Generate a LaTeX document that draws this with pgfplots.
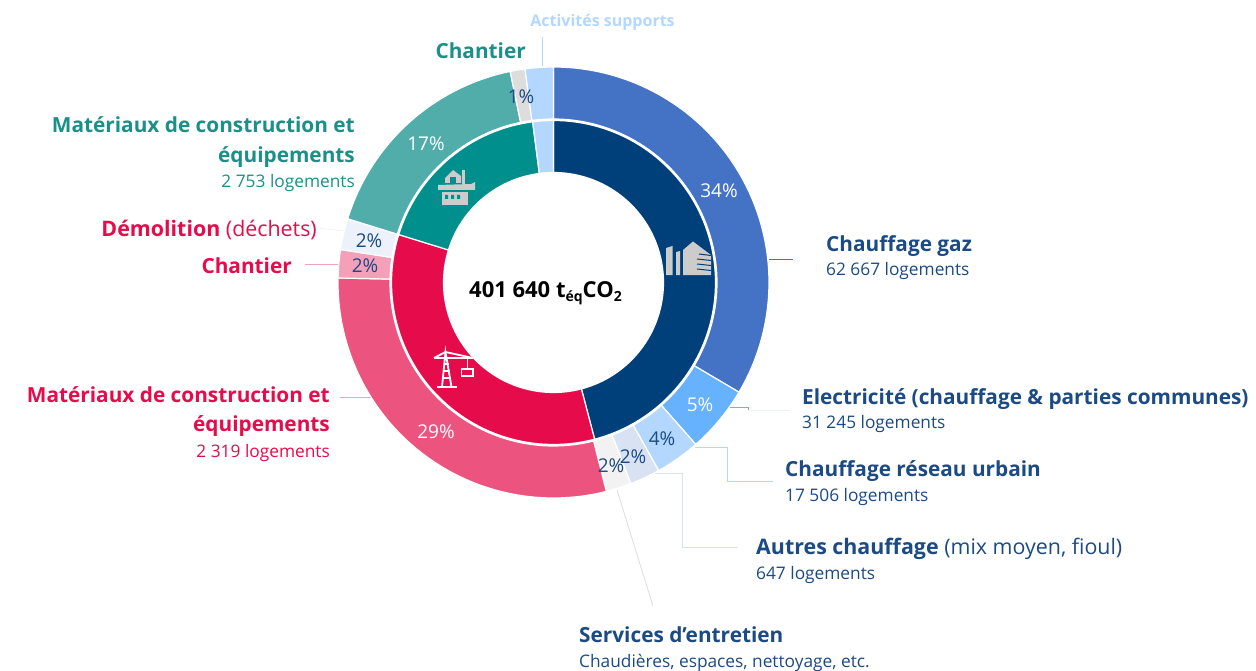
\documentclass[border=0pt]{standalone}
\usepackage{fontspec}
\setmainfont{Open Sans}
\usepackage{pgfplots}
\pgfplotsset{compat=1.18}
\definecolor{navy}{HTML}{1B4A84}
\definecolor{crim}{HTML}{E60B4B}
\definecolor{teal2}{HTML}{1A9088}
\definecolor{c1}{HTML}{4472C4}
\definecolor{c2}{HTML}{66B2FF}
\definecolor{c3}{HTML}{B3D7FF}
\definecolor{c4}{HTML}{D9E2F3}
\definecolor{c5}{HTML}{F2F2F2}
\definecolor{c6}{HTML}{EC547F}
\definecolor{c7}{HTML}{F4A0B8}
\definecolor{c8}{HTML}{EDF1F9}
\definecolor{c9}{HTML}{50ADAA}
\definecolor{c10}{HTML}{DDDDDD}
\definecolor{i1}{HTML}{00407A}
\definecolor{i2}{HTML}{E60B4B}
\definecolor{i3}{HTML}{008F8C}
\newcommand\fs[1]{\fontsize{#1}{#1}\selectfont}
\newcommand\sector[5]{%
  \gdef\pts{}%
  \pgfmathtruncatemacro\nn{ceil((#2-#1)/2)}%
  \pgfplotsforeachungrouped \i in {0,...,\nn}{%
    \pgfmathsetmacro\a{#1+(#2-#1)*\i/\nn}%
    \pgfmathsetmacro\x{553.5+#4*sin(\a)}%
    \pgfmathsetmacro\y{282.5-#4*cos(\a)}%
    \xdef\pts{\pts(\x,\y)}%
  }%
  \pgfplotsforeachungrouped \i in {0,...,\nn}{%
    \pgfmathsetmacro\a{#2-(#2-#1)*\i/\nn}%
    \pgfmathsetmacro\x{553.5+#3*sin(\a)}%
    \pgfmathsetmacro\y{282.5-#3*cos(\a)}%
    \xdef\pts{\pts(\x,\y)}%
  }%
  \edef\tmp{\noexpand\addplot[mark=none,fill=#5,draw=white,line width=1.2pt,line join=round] coordinates {\pts} -- cycle;}%
  \tmp
}
\newcommand\lead[2]{\addplot[mark=none,color=#1,line width=0.8pt] coordinates {#2};}
\begin{document}
\begin{tikzpicture}
\begin{axis}[
  scale only axis,width=1256pt,height=671pt,
  xmin=0,xmax=1256,ymin=0,ymax=671,y dir=reverse,
  hide axis,clip=false]
% leaders
\lead{c3}{(542,37)(542,66)}
\lead{c5}{(318,228)(346,231)}
\lead{c7}{(305,264)(339,264)}
\lead{c7}{(340,397)(372,397)}
\lead{c10}{(617,490)(653,606)}
\lead{c1}{(769,259)(793,259)}
\lead{c8}{(748,410)(790,410)}
\lead{c2}{(728,407.7)(748,407.7)(748,410)}
\lead{c3}{(695,447)(727,447)(727,481)(773,481)}
\lead{c4}{(655,473)(682,473)(682,547)(738,547)}
% outer ring: clockwise angle from the top (degrees)
\sector{0}{120.6}{163.5}{215.5}{c1}
\sector{120.6}{138.7}{163.5}{215.5}{c2}
\sector{138.7}{150.8}{163.5}{215.5}{c3}
\sector{150.8}{159}{163.5}{215.5}{c4}
\sector{159}{165.8}{163.5}{215.5}{c5}
\sector{165.8}{271.2}{163.5}{215.5}{c6}
\sector{271.2}{278.8}{163.5}{215.5}{c7}
\sector{278.8}{287.2}{163.5}{215.5}{c8}
\sector{287.2}{348.4}{163.5}{215.5}{c9}
\sector{348.4}{352.4}{163.5}{215.5}{c10}
\sector{352.4}{360}{163.5}{215.5}{c3}
% inner ring
\sector{0}{165.3}{110}{162}{i1}
\sector{165.3}{287.2}{110}{162}{i2}
\sector{287.2}{352.6}{110}{162}{i3}
\sector{352.6}{360}{110}{162}{c3}
% building icon
\fill[black!20] (666,248)--(672.5,246)--(672.5,275)--(666,275)--cycle;
\fill[black!20] (676,252)--(680,251)--(680,275)--(676,275)--cycle;
\fill[black!20] (683,250)--(693,241.5)--(711,255)--(711,275)--(683,275)--cycle;
\draw[i1,line width=1pt] (699,254)--(711,255.5);
\draw[i1,line width=1pt] (697,259)--(711,260.5);
\draw[i1,line width=1pt] (697,264)--(711,265.5);
\draw[i1,line width=1pt] (697,269)--(711,270.5);
% crane icon
\begin{scope}[white,line width=1.8pt]
\draw (437,387)--(457,387);
\draw (442,387)--(445.5,352)--(451.5,387);
\draw (443,378)--(451,378) (443.5,371)--(450,371) (444.5,364)--(449,364);
\draw (434,358)--(473,358);
\draw (445.5,352)--(434,358) (445.5,352)--(473,358);
\draw[line width=1pt] (467,358)--(467,369);
\draw[line width=1.2pt] (461.7,369)rectangle(473,376);
\end{scope}
% house icon
\fill[black!20] (445,183)--(445,178)--(453,170)--(461,176)--(461,183)--cycle;
\fill[i3] (450,177)rectangle(456,183);
\fill[black!20] (462,170)rectangle(464.5,184);
\fill[black!20] (438,185)--(471,184)--(475,182)--(475,190)--(438,190)--cycle;
\fill[black!20] (441.7,192)--(468,192)--(468,205)--(441.7,205)--cycle;
\fill[i3] (445,195)rectangle(448,199) (451,195)rectangle(454,199) (457,195)rectangle(460,199);
% percentages
\node[white,font=\fs{19}] at (719,191) {34\%};
\node[white,font=\fs{19}] at (700,405) {5\%};
\node[navy,font=\fs{19}] at (662,439) {4\%};
\node[navy,font=\fs{19}] at (633,457) {2\%};
\node[navy,font=\fs{19}] at (611,466) {2\%};
\node[white,font=\fs{19}] at (436,432) {29\%};
\node[navy,font=\fs{19}] at (369,241) {2\%};
\node[navy,font=\fs{19}] at (365,266) {2\%};
\node[white,font=\fs{19}] at (426,144) {17\%};
\node[navy,font=\fs{19}] at (521,97) {1\%};
% centre
\node[black,font=\fs{22}\bfseries] at (545.5,293) {401 640 t\raisebox{-4pt}{\fs{14}éq}CO\raisebox{-4pt}{\fs{14}2}};
% labels
\node[inner sep=0,anchor=center,color=c3,font=\fs{16}\bfseries] at (602.5,22) {Activités supports};
\node[inner sep=0,anchor=east,teal2,font=\fs{20.8}\bfseries] at (526,51) {Chantier};
\node[inner sep=0,anchor=east,teal2,font=\fs{20.8}\bfseries] at (355,125) {Matériaux de construction et};
\node[inner sep=0,anchor=east,teal2,font=\fs{20.8}\bfseries] at (355,157) {équipements};
\node[inner sep=0,anchor=east,teal2,font=\fs{17.3}] at (355,183) {2 753 logements};
\node[inner sep=0,anchor=east,crim,font=\fs{21.4}] at (317,230) {\textbf{Démolition} (déchets)};
\node[inner sep=0,anchor=east,crim,font=\fs{20.8}\bfseries] at (292,266) {Chantier};
\node[inner sep=0,anchor=east,crim,font=\fs{20.8}\bfseries] at (330,395) {Matériaux de construction et};
\node[inner sep=0,anchor=east,crim,font=\fs{20.8}\bfseries] at (330,426) {équipements};
\node[inner sep=0,anchor=east,crim,font=\fs{17.3}] at (330,453) {2 319 logements};
\node[inner sep=0,anchor=west,navy,font=\fs{20.8}\bfseries] at (826,246) {Chauffage gaz};
\node[inner sep=0,anchor=west,navy,font=\fs{17.3}] at (826,271) {62 667 logements};
\node[inner sep=0,anchor=west,navy,font=\fs{20.8}\bfseries] at (802,399) {Electricité (chauffage \& parties communes)};
\node[inner sep=0,anchor=west,navy,font=\fs{17.3}] at (802,424) {31 245 logements};
\node[inner sep=0,anchor=west,navy,font=\fs{20.8}\bfseries] at (785,471) {Chauffage réseau urbain};
\node[inner sep=0,anchor=west,navy,font=\fs{17.3}] at (785,497) {17 506 logements};
\node[inner sep=0,anchor=west,navy,font=\fs{21.4}] at (756,549) {\textbf{Autres chauffage} (mix moyen, fioul)};
\node[inner sep=0,anchor=west,navy,font=\fs{17.3}] at (756,575) {647 logements};
\node[inner sep=0,anchor=west,navy,font=\fs{20.8}\bfseries] at (579,635) {Services d’entretien};
\node[inner sep=0,anchor=west,navy,font=\fs{17.3}] at (579,663) {Chaudières, espaces, nettoyage, etc.};
\end{axis}
\pgfresetboundingbox
\useasboundingbox (current axis.south west) rectangle (current axis.north east);
\end{tikzpicture}
\end{document}
